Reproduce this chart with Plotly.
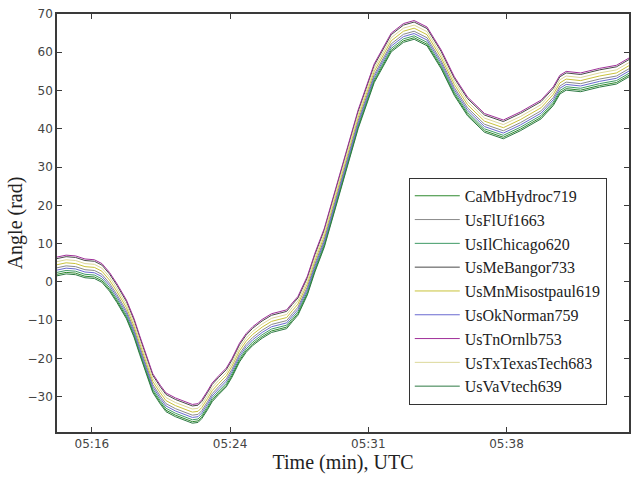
import plotly.graph_objects as go

# Sample times (UTC, hh:mm:ss)
times = ["05:14:49", "05:15:18", "05:15:48", "05:16:18", "05:16:48", "05:17:12", "05:17:36", "05:18:00",
         "05:18:30", "05:18:54", "05:19:12", "05:19:36", "05:19:54", "05:20:18", "05:20:36", "05:21:06",
         "05:21:42", "05:22:00", "05:22:18", "05:22:30", "05:22:48", "05:23:03", "05:23:24", "05:23:48",
         "05:24:06", "05:24:30", "05:24:51", "05:25:12", "05:25:42", "05:26:12", "05:26:36", "05:27:00",
         "05:27:18", "05:27:36", "05:28:06", "05:28:30", "05:29:00", "05:29:48", "05:30:48", "05:31:39",
         "05:32:12", "05:32:33", "05:33:12", "05:33:46", "05:34:27", "05:35:12", "05:35:54", "05:36:36",
         "05:37:30", "05:38:30", "05:39:24", "05:40:30", "05:41:09", "05:41:30", "05:41:50", "05:42:36",
         "05:43:36", "05:44:30", "05:45:10"]

# Phase angle per station (rad)
CaMbHydroc719 = [2.0, 2.5, 2.3, 1.5, 1.3, 0.3, -2.0, -5.0, -9.2, -14.0, -18.5, -24.0, -28.5, -31.5, -33.5, -34.8,
                 -35.9, -36.5, -36.3, -35.3, -33.0, -30.9, -29.0, -27.0, -24.5, -20.5, -18.0, -16.2, -14.3, -12.8,
                 -12.3, -11.8, -10.0, -8.3, -3.0, 3.0, 9.5, 23.5, 40.5, 52.5, 57.5, 60.5, 63.0, 63.8, 62.1, 56.1,
                 49.1, 43.8, 39.5, 37.8, 39.9, 43.0, 46.5, 49.5, 50.5, 50.1, 51.3, 52.1, 54.0]
UsFlUf1663 = [3.7, 4.2, 4.0, 3.2, 3.0, 2.0, -0.3, -3.3, -7.5, -12.3, -16.8, -22.3, -26.8, -29.8, -31.8, -33.1,
              -34.2, -34.8, -34.6, -33.6, -31.3, -29.2, -27.3, -25.3, -22.8, -18.8, -16.3, -14.5, -12.6, -11.1,
              -10.6, -10.1, -8.3, -6.6, -1.3, 4.7, 11.2, 25.2, 42.2, 54.2, 59.2, 62.2, 64.7, 65.5, 63.8, 57.8,
              50.8, 45.5, 41.2, 39.5, 41.6, 44.7, 48.2, 51.2, 52.2, 51.8, 53.0, 53.8, 55.7]
UsIlChicago620 = [2.5, 3.0, 2.8, 2.0, 1.8, 0.8, -1.5, -4.5, -8.7, -13.5, -18.0, -23.5, -28.0, -31.0, -33.0, -34.3,
                  -35.4, -36.0, -35.8, -34.8, -32.5, -30.4, -28.5, -26.5, -24.0, -20.0, -17.5, -15.7, -13.8, -12.3,
                  -11.8, -11.3, -9.5, -7.8, -2.5, 3.5, 10.0, 24.0, 41.0, 53.0, 58.0, 61.0, 63.5, 64.3, 62.6, 56.6,
                  49.6, 44.3, 40.0, 38.3, 40.4, 43.5, 47.0, 50.0, 51.0, 50.6, 51.8, 52.6, 54.5]
UsMeBangor733 = [6.1, 6.6, 6.4, 5.6, 5.4, 4.4, 2.1, -0.9, -5.1, -9.9, -14.4, -19.9, -24.4, -27.4, -29.4, -30.7,
                 -31.8, -32.4, -32.2, -31.2, -28.9, -26.8, -24.9, -22.9, -20.4, -16.4, -13.9, -12.1, -10.2, -8.7,
                 -8.2, -7.7, -5.9, -4.2, 1.1, 7.1, 13.6, 27.6, 44.6, 56.6, 61.6, 64.6, 67.1, 67.9, 66.2, 60.2,
                 53.2, 47.9, 43.6, 41.9, 44.0, 47.1, 50.6, 53.6, 54.6, 54.2, 55.4, 56.2, 58.1]
UsMnMisostpaul619 = [4.5, 5.0, 4.8, 4.0, 3.8, 2.8, 0.5, -2.5, -6.7, -11.5, -16.0, -21.5, -26.0, -29.0, -31.0, -32.3,
                     -33.4, -34.0, -33.8, -32.8, -30.5, -28.4, -26.5, -24.5, -22.0, -18.0, -15.5, -13.7, -11.8, -10.3,
                     -9.8, -9.3, -7.5, -5.8, -0.5, 5.5, 12.0, 26.0, 43.0, 55.0, 60.0, 63.0, 65.5, 66.3, 64.6, 58.6,
                     51.6, 46.3, 42.0, 40.3, 42.4, 45.5, 49.0, 52.0, 53.0, 52.6, 53.8, 54.6, 56.5]
UsOkNorman759 = [3.1, 3.6, 3.4, 2.6, 2.4, 1.4, -0.9, -3.9, -8.1, -12.9, -17.4, -22.9, -27.4, -30.4, -32.4, -33.7,
                 -34.8, -35.4, -35.2, -34.2, -31.9, -29.8, -27.9, -25.9, -23.4, -19.4, -16.9, -15.1, -13.2, -11.7,
                 -11.2, -10.7, -8.9, -7.2, -1.9, 4.1, 10.6, 24.6, 41.6, 53.6, 58.6, 61.6, 64.1, 64.9, 63.2, 57.2,
                 50.2, 44.9, 40.6, 38.9, 41.0, 44.1, 47.6, 50.6, 51.6, 51.2, 52.4, 53.2, 55.1]
UsTnOrnlb753 = [6.5, 7.0, 6.8, 6.0, 5.8, 4.8, 2.5, -0.5, -4.7, -9.5, -14.0, -19.5, -24.0, -27.0, -29.0, -30.3,
                -31.4, -32.0, -31.8, -30.8, -28.5, -26.4, -24.5, -22.5, -20.0, -16.0, -13.5, -11.7, -9.8, -8.3,
                -7.8, -7.3, -5.5, -3.8, 1.5, 7.5, 14.0, 28.0, 45.0, 57.0, 62.0, 65.0, 67.5, 68.3, 66.6, 60.6,
                53.6, 48.3, 44.0, 42.3, 44.4, 47.5, 51.0, 54.0, 55.0, 54.6, 55.8, 56.6, 58.5]
UsTxTexasTech683 = [5.3, 5.8, 5.6, 4.8, 4.6, 3.6, 1.3, -1.7, -5.9, -10.7, -15.2, -20.7, -25.2, -28.2, -30.2, -31.5,
                    -32.6, -33.2, -33.0, -32.0, -29.7, -27.6, -25.7, -23.7, -21.2, -17.2, -14.7, -12.9, -11.0, -9.5,
                    -9.0, -8.5, -6.7, -5.0, 0.3, 6.3, 12.8, 26.8, 43.8, 55.8, 60.8, 63.8, 66.3, 67.1, 65.4, 59.4,
                    52.4, 47.1, 42.8, 41.1, 43.2, 46.3, 49.8, 52.8, 53.8, 53.4, 54.6, 55.4, 57.3]
UsVaVtech639 = [1.6, 2.1, 1.9, 1.1, 0.9, -0.1, -2.4, -5.4, -9.6, -14.4, -18.9, -24.4, -28.9, -31.9, -33.9, -35.2,
                -36.3, -36.9, -36.7, -35.7, -33.4, -31.3, -29.4, -27.4, -24.9, -20.9, -18.4, -16.6, -14.7, -13.2,
                -12.7, -12.2, -10.4, -8.7, -3.4, 2.6, 9.1, 23.1, 40.1, 52.1, 57.1, 60.1, 62.6, 63.4, 61.7, 55.7,
                48.7, 43.4, 39.1, 37.4, 39.5, 42.6, 46.1, 49.1, 50.1, 49.7, 50.9, 51.7, 53.6]

stations = ["CaMbHydroc719", "UsFlUf1663", "UsIlChicago620", "UsMeBangor733", "UsMnMisostpaul619",
            "UsOkNorman759", "UsTnOrnlb753", "UsTxTexasTech683", "UsVaVtech639"]
series = [CaMbHydroc719, UsFlUf1663, UsIlChicago620, UsMeBangor733, UsMnMisostpaul619,
          UsOkNorman759, UsTnOrnlb753, UsTxTexasTech683, UsVaVtech639]
colors = ["#2f8a2f", "#8a8a8a", "#3f9a66", "#4a4a4a", "#c9c23a",
          "#6a6ad0", "#a0309a", "#dcd89a", "#2e7a44"]

day = "2000-01-01 "
x = [day + t for t in times]

fig = go.Figure()
for name, ys, c in zip(stations, series, colors):
    fig.add_trace(go.Scatter(x=x, y=ys, name=name, mode="lines",
                             line=dict(color=c, width=1), legendgroup=name))

serif = "Liberation Serif"
sans = "DejaVu Sans"
axis_col = "#3a3a3a"

fig.update_layout(
    width=632, height=479,
    margin=dict(l=57, r=1, t=14, b=47),
    paper_bgcolor="white", plot_bgcolor="white",
    showlegend=True,
    legend=dict(x=0.615, y=0.608, xanchor="left", yanchor="top",
                bordercolor="#333333", borderwidth=1, bgcolor="white",
                font=dict(family=serif, size=16, color="#222222"),
                tracegroupgap=0, itemwidth=45),
)
fig.update_xaxes(
    type="date", range=[day + "05:14:49", day + "05:45:10"],
    tick0=day + "05:16:40", dtick=440000, tickformat="%H:%M",
    ticks="inside", ticklen=5, tickcolor=axis_col,
    showline=True, linecolor=axis_col, linewidth=1.5, mirror="ticks",
    showgrid=False, zeroline=False,
    tickfont=dict(family=sans, size=12, color="#444444"),
    title=dict(text="Time (min), UTC", font=dict(family=serif, size=20, color="#222222"), standoff=4),
)
fig.update_yaxes(
    range=[-39.2, 70], tick0=-30, dtick=10,
    ticks="inside", ticklen=5, tickcolor=axis_col,
    showline=True, linecolor=axis_col, linewidth=1.5, mirror="ticks",
    showgrid=False, zeroline=False,
    tickfont=dict(family=sans, size=12, color="#444444"),
    title=dict(text="Angle (rad)", font=dict(family=serif, size=20, color="#222222"), standoff=0),
)

fig.write_html("out.html")
